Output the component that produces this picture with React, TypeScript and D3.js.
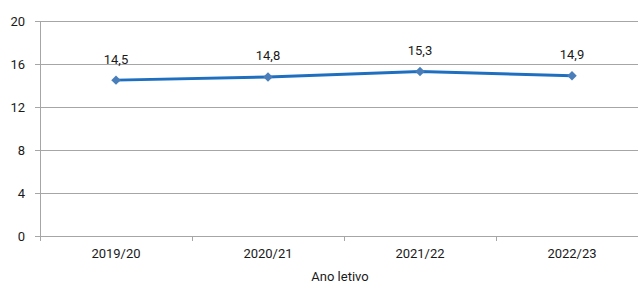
import { useRef, useEffect } from 'react';
import * as d3 from 'd3';

const categories = ['2019/20', '2020/21', '2021/22', '2022/23'];
const values = [14.5, 14.8, 15.3, 14.9];
const yTicks = [0, 4, 8, 12, 16, 20];
const xTitle = 'Ano letivo';

const width = 638;
const height = 283;

const App = () => {
  const svgRef = useRef<SVGSVGElement | null>(null);

  useEffect(() => {
    const svg = d3.select(svgRef.current);
    svg.selectAll('*').remove();

    const margin = { top: 21, right: -10, bottom: 47, left: 40 };
    const font = "Roboto, sans-serif";

    const x = d3.scaleBand<string>()
      .domain(categories)
      .range([margin.left, width - margin.right]);

    const y = d3.scaleLinear()
      .domain([0, 20])
      .range([height - margin.bottom, margin.top]);

    // gridlines
    svg.append('g')
      .selectAll('line')
      .data(yTicks)
      .enter()
      .append('line')
      .attr('x1', margin.left - 5)
      .attr('x2', width)
      .attr('y1', d => Math.round(y(d)) + 0.5)
      .attr('y2', d => Math.round(y(d)) + 0.5)
      .attr('stroke', '#a6a6a6')
      .attr('stroke-width', 1);

    // y axis line
    svg.append('line')
      .attr('x1', margin.left + 0.5)
      .attr('x2', margin.left + 0.5)
      .attr('y1', y(20))
      .attr('y2', y(0) + 5)
      .attr('stroke', '#a6a6a6');

    // x ticks
    svg.append('g')
      .selectAll('line')
      .data(categories)
      .enter()
      .append('line')
      .attr('x1', d => Math.round(x(d) as number) + 0.5)
      .attr('x2', d => Math.round(x(d) as number) + 0.5)
      .attr('y1', y(0))
      .attr('y2', y(0) + 5)
      .attr('stroke', '#a6a6a6');

    svg.append('g')
      .selectAll('text')
      .data(yTicks)
      .enter()
      .append('text')
      .attr('x', 25)
      .attr('y', d => y(d))
      .attr('dy', '0.35em')
      .attr('text-anchor', 'end')
      .style('font-family', font)
      .style('font-size', '13px')
      .attr('fill', '#1a1a1a')
      .text(d => d);

    svg.append('g')
      .selectAll('text')
      .data(categories)
      .enter()
      .append('text')
      .attr('x', d => (x(d) as number) + x.bandwidth() / 2)
      .attr('y', y(0) + 17)
      .attr('dy', '0.35em')
      .attr('text-anchor', 'middle')
      .style('font-family', font)
      .style('font-size', '13px')
      .attr('fill', '#1a1a1a')
      .text(d => d);

    svg.append('text')
      .attr('x', 340)
      .attr('y', y(0) + 40)
      .attr('dy', '0.35em')
      .attr('text-anchor', 'middle')
      .style('font-family', font)
      .style('font-size', '13px')
      .attr('fill', '#1a1a1a')
      .text(xTitle);

    const pts = categories.map((c, i) => ({ c, v: values[i] }));
    const line = d3.line<{ c: string; v: number }>()
      .x(d => (x(d.c) as number) + x.bandwidth() / 2)
      .y(d => y(d.v));

    svg.append('path')
      .datum(pts)
      .attr('fill', 'none')
      .attr('stroke', '#1f6fc0')
      .attr('stroke-width', 3)
      .attr('d', line);

    // diamonds (rotated squares)
    svg.append('g')
      .selectAll('path')
      .data(pts)
      .enter()
      .append('path')
      .attr('transform', d => `translate(${(x(d.c) as number) + x.bandwidth() / 2},${y(d.v)}) rotate(45)`)
      .attr('d', d3.symbol().type(d3.symbolSquare).size(45))
      .attr('fill', '#4a7ebb');

    svg.append('g')
      .selectAll('text')
      .data(pts)
      .enter()
      .append('text')
      .attr('x', d => (x(d.c) as number) + x.bandwidth() / 2)
      .attr('y', d => y(d.v) - 21)
      .attr('dy', '0.35em')
      .attr('text-anchor', 'middle')
      .style('font-family', font)
      .style('font-size', '13px')
      .attr('fill', '#1a1a1a')
      .text(d => d3.format('.1f')(d.v).replace('.', ','));
  }, []);

  return <svg ref={svgRef} width={width} height={height} style={{ position: 'absolute', left: 0, top: 0 }}></svg>;
};

export default App;
